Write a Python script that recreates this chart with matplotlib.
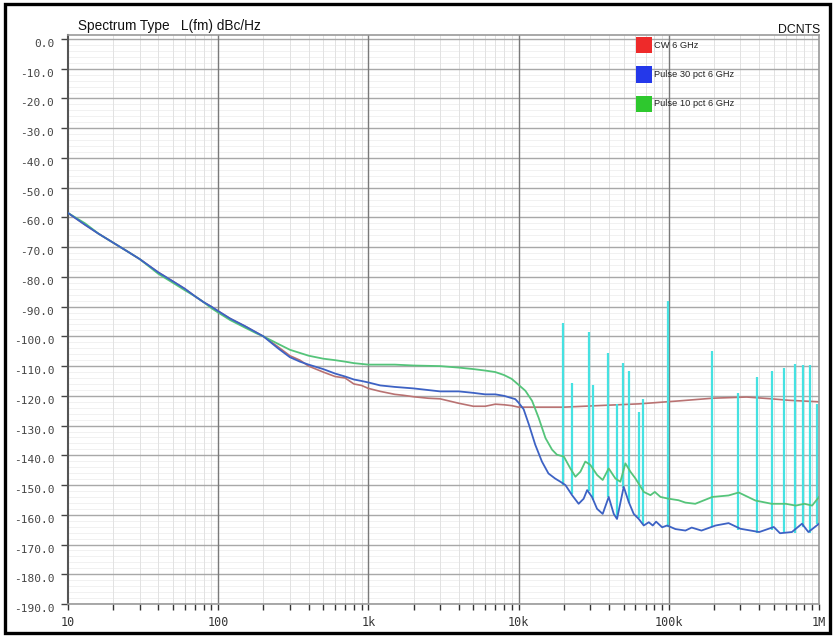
import matplotlib
matplotlib.use("Agg")
import matplotlib.pyplot as plt
import matplotlib.transforms as mtransforms
from matplotlib.patches import Rectangle
from matplotlib.ticker import FixedLocator, NullFormatter

# ---------------- data ----------------
f_cw = [10, 13, 16, 20, 25, 30, 40, 50, 60, 70, 80, 90, 100, 120, 150, 200, 250, 300, 350, 400,
        500, 600, 700, 800, 900, 1000, 1200, 1500, 1700, 2000, 2500, 3000, 3500, 4000, 5000,
        6000, 7000, 8000, 9000, 10000, 13700, 20000, 37000, 63000, 117000, 195000, 330000,
        484000, 630000, 1000000]
L_cw = [-58.5, -62.5, -65.5, -68.5, -71.5, -74, -78.5, -81.5, -84, -86.5, -88.5, -90, -91.5, -94,
        -96.5, -100, -103.5, -106.5, -108, -110, -112, -113.5, -114, -116, -116.5, -117.5,
        -118.5, -119.5, -119.8, -120.3, -120.8, -121, -121.8, -122.5, -123.5, -123.5, -122.8,
        -123, -123.3, -123.8, -123.8, -123.8, -123.2, -122.7, -121.7, -120.8, -120.4, -121,
        -121.5, -122]

f_p30 = [10, 13, 16, 20, 25, 30, 40, 50, 60, 70, 80, 90, 100, 120, 150, 200, 250, 300, 350, 400,
         500, 600, 700, 800, 900, 1000, 1200, 1500, 2000, 3000, 4000, 5000, 6000, 7000, 8000,
         9500, 10000, 10800, 11700, 12900, 14300, 15800, 17500, 19000, 20500, 22700, 25100,
         27100, 28600, 30800, 33300, 36300, 39800, 43000, 45200, 50100, 54100, 58400, 63100,
         68100, 73600, 78200, 82300, 90300, 97500, 110700, 129000, 142000, 165000, 205000,
         250000, 300000, 400000, 500000, 550000, 660000, 770000, 850000, 1000000]
L_p30 = [-58.5, -62.5, -65.5, -68.5, -71.5, -74, -78.5, -81.5, -84, -86.5, -88.5, -90, -91.5, -94,
         -96.5, -100, -104, -107, -108.5, -109.5, -111, -112.5, -113.5, -114.5, -115, -115.5,
         -116.5, -117, -117.5, -118.5, -118.5, -119, -119.5, -119.5, -120, -121.1, -122.3,
         -124.5, -129.6, -136.4, -142.1, -146.1, -147.8, -148.9, -150, -153.4, -156.3, -154.6,
         -151.7, -154, -158, -159.7, -154, -159.7, -161.4, -150.6, -155.7, -159.7, -161.4,
         -163.6, -162.5, -163.6, -162.3, -164.2, -163.6, -164.8, -165.3, -164.3, -165.3,
         -163.6, -162.8, -164.7, -165.8, -164.1, -166.2, -165.8, -163, -165.8, -163]

f_p10 = [10, 13, 16, 20, 25, 30, 40, 50, 60, 70, 80, 90, 100, 120, 150, 180, 200, 250, 300, 400,
         500, 600, 700, 800, 1000, 1500, 2000, 3000, 4000, 5000, 6000, 7000, 8000, 9000, 10000,
         11100, 12300, 13600, 15100, 16700, 18000, 20000, 22100, 23900, 25800, 27800, 30000,
         33300, 36300, 39800, 44100, 47600, 51400, 55500, 60000, 68100, 75500, 80700, 88000,
         100000, 116000, 129000, 150000, 195000, 250000, 292000, 377000, 484000, 600000,
         700000, 800000, 900000, 1000000]
L_p10 = [-58.5, -62, -65.5, -68.5, -71.5, -74, -79, -82, -84.5, -86.5, -88.5, -90.5, -92, -94.5,
         -97, -99, -100, -102.5, -104.5, -106.5, -107.5, -108, -108.5, -109, -109.5, -109.5,
         -109.8, -110, -110.5, -111, -111.5, -112, -113, -114.3, -116.3, -118.3, -121.7, -127.4,
         -134.2, -138.1, -139.8, -140.4, -144.4, -147.2, -145.5, -142.1, -143.2, -146.6, -148.3,
         -144.4, -147.8, -148.9, -142.7, -145.5, -147.8, -152.3, -153.4, -152.3, -154, -154.6,
         -155.1, -155.9, -156.3, -154, -153.5, -152.5, -155.2, -156.3, -156.3, -156.9, -156.3,
         -156.9, -154]

spur_f = [19800, 22700, 29400, 31500, 39600, 45000, 49200, 54600, 62900, 66900, 98900, 195000,
          290000, 389000, 484000, 585000, 690000, 783000, 876000, 970000]
spur_top = [-95.4, -115.6, -98.5, -116.4, -105.5, -122.8, -108.8, -111.6, -125.6, -120.9, -88.1,
            -105, -119, -113.5, -111.6, -110.5, -109.2, -109.7, -109.7, -122.8]
spur_base = [-150, -153, -152, -155, -154, -161, -151, -156, -161, -163, -164, -164, -165, -166,
             -165, -166, -166, -164, -166, -163]

y_ticks = list(range(0, -200, -10))
y_labels = ["%.1f" % v for v in y_ticks]
x_ticks = [10, 100, 1000, 10000, 100000, 1000000]
x_labels = ["10", "100", "1k", "10k", "100k", "1M"]
x_minor = [m * d for d in [10, 100, 1000, 10000, 100000] for m in range(2, 10)]

legend_names = ["CW 6 GHz", "Pulse 30 pct 6 GHz", "Pulse 10 pct 6 GHz"]
legend_colors = ["#ee2a2a", "#2438ea", "#2ec82e"]

# ---------------- figure ----------------
W, H = 833, 637
fig = plt.figure(figsize=(W / 100, H / 100), dpi=100)
fig.patch.set_facecolor("white")
ax = fig.add_axes([68 / W, 1 - 604 / H, (819 - 68) / W, (604 - 35) / H])

ax.set_xscale("log")
ax.set_xlim(10, 1e6)
ax.set_ylim(-190, 1.35)

# grid
for v in range(-188, 1, 2):
    if v % 10 != 0:
        ax.axhline(v, color="#efefef", lw=0.6, zorder=0)
for v in y_ticks:
    ax.axhline(v, color="#a8a8a8", lw=1.0, zorder=0.5)
for v in x_minor:
    ax.axvline(v, color="#e2e2e2", lw=0.7, zorder=0)
for v in x_ticks[1:-1]:
    ax.axvline(v, color="#7a7a7a", lw=1.0, zorder=0.5)

# traces
ax.plot(f_cw, L_cw, color="#b97272", lw=1.2, zorder=2)
ax.vlines(spur_f, spur_base, spur_top, color="#46e2e2", lw=1.6, zorder=2.5)
ax.plot(f_p10, L_p10, color="#55c47a", lw=1.3, zorder=3)
ax.plot(f_p30, L_p30, color="#3d62c4", lw=1.3, zorder=3.5)

# ticks
ax.xaxis.set_major_locator(FixedLocator(x_ticks))
ax.set_xticklabels(x_labels)
ax.xaxis.set_minor_locator(FixedLocator(x_minor))
ax.xaxis.set_minor_formatter(NullFormatter())
ax.set_yticks(y_ticks)
ax.set_yticklabels(y_labels)
ax.tick_params(axis="x", which="both", direction="out", length=4, width=1, color="#333333",
               pad=5, labelsize=8.5, labelcolor="#333333")
ax.tick_params(axis="y", which="major", direction="out", length=5, width=1, color="#444444",
               pad=5, labelsize=8, labelcolor="#444444")
for lab in ax.get_xticklabels() + ax.get_yticklabels():
    lab.set_family("DejaVu Sans Mono")
off = mtransforms.ScaledTranslation(0, -4 / 100, fig.dpi_scale_trans)
for lab in ax.get_yticklabels():
    lab.set_transform(lab.get_transform() + off)

for s in ax.spines.values():
    s.set_color("#9a9a9a")
    s.set_linewidth(1.2)
ax.spines["left"].set_color("#555555")
ax.spines["left"].set_linewidth(1.5)

# title texts
fig.text(78 / W, 1 - 26 / H, "Spectrum Type   L(fm) dBc/Hz", family="Liberation Sans",
         fontsize=9.8, color="#111111", va="center", ha="left")
fig.text(820 / W, 1 - 30 / H, "DCNTS", family="Liberation Sans", fontsize=8.8,
         color="#111111", va="center", ha="right")

# legend (manual, inside plot)
for i, (name, c) in enumerate(zip(legend_names, legend_colors)):
    yc = 45 + 29.5 * i
    fig.add_artist(Rectangle((636 / W, 1 - (yc + 8) / H), 16 / W, 16 / H,
                             transform=fig.transFigure, facecolor=c, edgecolor="none", zorder=5))
    fig.text(654 / W, 1 - yc / H, name, family="Liberation Sans", fontsize=6.7,
             color="#222222", va="center", ha="left", zorder=6)

# outer border
fig.add_artist(Rectangle((5 / W, 4 / H), (830 - 5) / W, (633 - 4) / H, transform=fig.transFigure,
                         fill=False, edgecolor="black", lw=2.4, zorder=10))

fig.savefig("out.png", dpi=100)
